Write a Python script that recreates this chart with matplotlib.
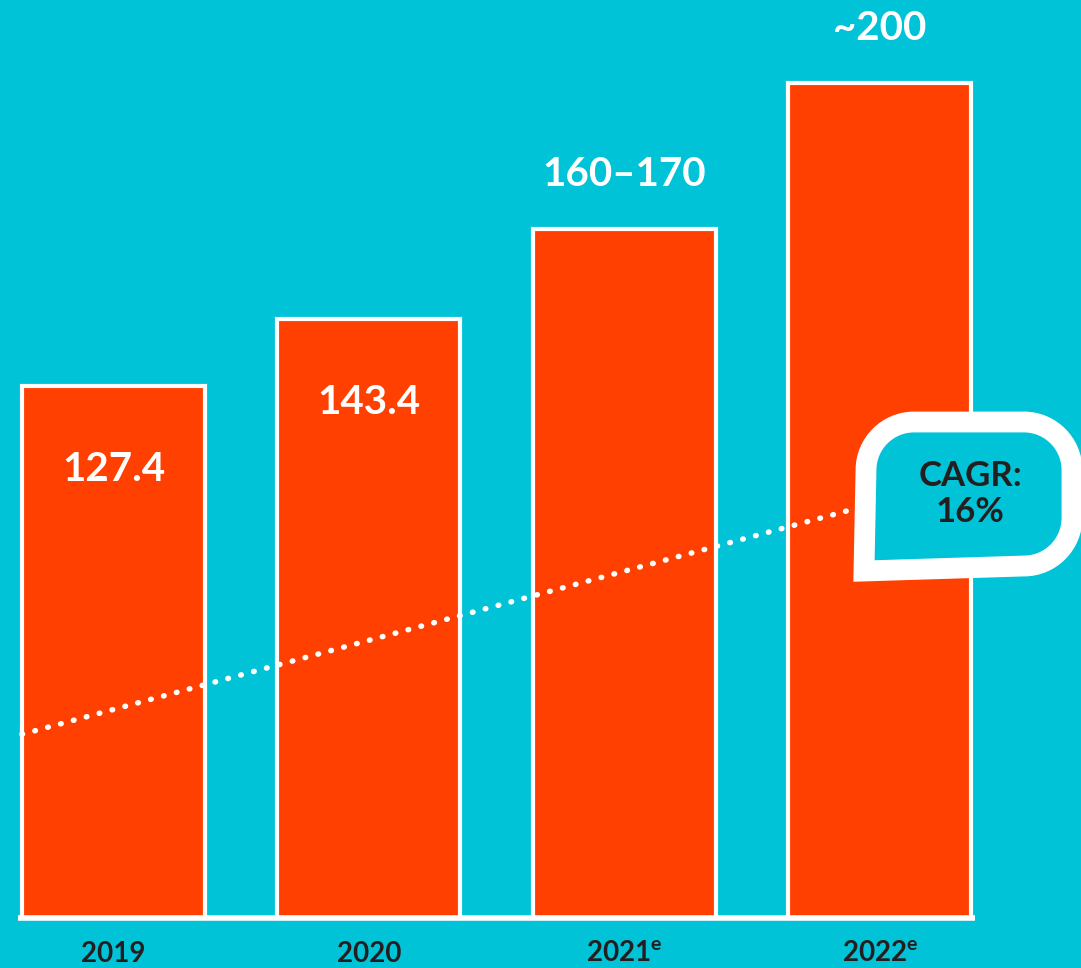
import matplotlib.pyplot as plt
from matplotlib.path import Path
from matplotlib.patches import PathPatch

# data
years = ['2019', '2020', '2021', '2022']
estimate = [False, False, True, True]
values = [127.4, 143.4, 165, 200]
value_labels = ['127.4', '143.4', '160–170', '~200']
label_inside = [True, True, False, False]
cagr_text = 'CAGR:\n16%'
cagr_start = 44.0   # dotted trend line, value at left end
cagr_end = 97.7     # value at right end

# colours
bg = '#00C3D7'
bar_col = '#FF4000'
dark = '#231F20'

plt.rcParams['font.family'] = ['Lato', 'DejaVu Sans']
plt.rcParams['mathtext.fontset'] = 'custom'
plt.rcParams['mathtext.rm'] = 'Lato'
plt.rcParams['mathtext.bf'] = 'Lato:bold'

fig = plt.figure(figsize=(10.81, 9.68), dpi=100, facecolor=bg)
ax = fig.add_axes([0, 0, 1, 1])
ax.set_facecolor(bg)

x = list(range(len(years)))
width = 0.716
ax.bar(x, values, width=width, color=bar_col, edgecolor='white', linewidth=3, zorder=2)
ax.plot([x[0] - width / 2 - 0.015, x[-1] + width / 2 + 0.015], [0, 0],
        color='white', lw=4, solid_capstyle='butt', zorder=3)

ax.set_xlim(-0.444, 3.787)
ax.set_ylim(-12.0, 219.9)
ax.axis('off')

# value labels
for xi, v, lab, inside in zip(x, values, value_labels, label_inside):
    off = -60 if inside else 39
    ax.annotate(lab, (xi, v), xytext=(0, off), textcoords='offset points',
                ha='center', va='center', color='white', fontsize=29,
                fontweight='bold', zorder=4)

# year labels
for xi, yr, est in zip(x, years, estimate):
    lab = yr + r'$^{\mathbf{e}}$' if est else yr
    ax.annotate(lab, (xi, 0), xytext=(0, -26), textcoords='offset points',
                ha='center', va='center', color=dark, fontsize=20,
                fontweight='bold')

# dotted CAGR line
ax.plot([-0.358, 2.883], [cagr_start, cagr_end], color='white', lw=4,
        linestyle=(0, (0.1, 2.3)), dash_capstyle='round', zorder=5)

# speech bubble, in pixel coordinates
ov = fig.add_axes([0, 0, 1, 1], facecolor='none')
ov.set_xlim(0, 1081)
ov.set_ylim(968, 0)
ov.axis('off')

L, T, R, B, r = 866, 422, 1072, 566, 48
k = 0.55 * r
verts = [
    (L - 2, B + 5),
    (L, T + r),
    (L, T + r - k), (L + r - k, T), (L + r, T),
    (R - r, T),
    (R - r + k, T), (R, T + r - k), (R, T + r),
    (R, B - r),
    (R, B - r + k), (R - r + k, B), (R - r, B),
    (L - 2, B + 5),
    (L - 2, B + 5),
]
codes = [Path.MOVETO, Path.LINETO,
         Path.CURVE4, Path.CURVE4, Path.CURVE4,
         Path.LINETO,
         Path.CURVE4, Path.CURVE4, Path.CURVE4,
         Path.LINETO,
         Path.CURVE4, Path.CURVE4, Path.CURVE4,
         Path.LINETO, Path.CLOSEPOLY]
bubble = PathPatch(Path(verts, codes), facecolor=bg, edgecolor='white',
                   lw=15, joinstyle='miter', zorder=6)
ov.add_patch(bubble)
ov.text(970, 494, cagr_text, ha='center', va='center', color=dark,
        fontsize=25, fontweight='bold', linespacing=1.15, zorder=7)

fig.savefig('out.png', dpi=100, facecolor=bg)
